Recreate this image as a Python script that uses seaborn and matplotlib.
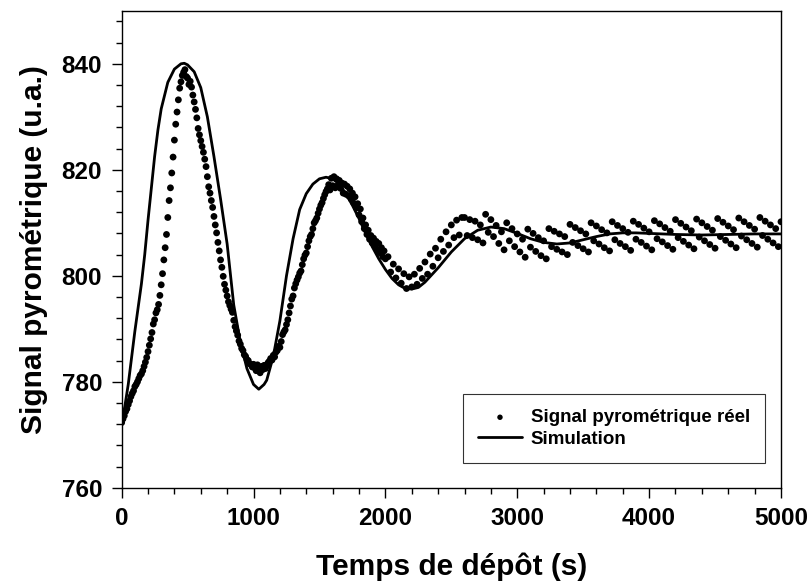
import numpy as np
import pandas as pd
import matplotlib
matplotlib.use("Agg")
import matplotlib.pyplot as plt
from matplotlib.ticker import MultipleLocator
import seaborn as sns

# =====================================================
# DATA
# =====================================================

# measured pyrometer signal: every 10 s from 0 to 2000 s ...
signal_early = [
    772.3, 773.0, 773.6, 774.4, 774.9, 775.7, 776.4, 777.2, 777.8, 778.3,
    779.1, 779.5, 780.0, 780.6, 781.2, 781.5, 782.1, 782.9, 783.7, 784.6,
    785.7, 786.9, 788.1, 789.3, 790.9, 791.7, 793.0, 793.6, 794.6, 796.3,
    798.3, 800.4, 803.0, 805.3, 807.8, 811.0, 814.2, 816.6, 819.4, 822.4,
    825.6, 828.6, 830.9, 833.2, 835.4, 836.6, 837.8, 838.4, 838.9, 837.6,
    837.3, 836.1, 836.7, 835.6, 834.1, 832.8, 831.4, 829.8, 827.8, 826.6,
    825.5, 824.4, 823.3, 822.0, 820.6, 818.7, 816.8, 815.6, 814.2, 812.9,
    811.2, 809.6, 808.1, 806.3, 804.7, 803.0, 801.6, 799.9, 798.4, 797.3,
    796.2, 795.1, 794.4, 793.7, 793.1, 791.6, 790.4, 789.6, 788.8, 787.7,
    787.1, 786.3, 785.9, 785.1, 784.8, 784.2, 784.0, 783.4, 783.3, 782.8,
    783.3, 782.6, 782.1, 783.2, 782.4, 781.7, 782.9, 782.3, 783.1, 782.5,
    783.0, 783.6, 783.9, 784.4, 784.1, 785.0, 784.7, 785.6, 785.9, 786.7,
    786.5, 787.6, 788.9, 789.4, 789.8, 790.8, 791.7, 793.0, 794.3, 795.6,
    796.2, 797.7, 798.5, 799.2, 799.8, 800.5, 800.9, 802.1, 803.2, 803.9,
    804.3, 805.5, 806.6, 807.4, 807.8, 808.9, 810.0, 810.4, 810.9, 811.8,
    812.6, 813.3, 813.8, 814.6, 815.3, 815.9, 816.4, 817.2, 816.2, 818.4,
    817.0, 818.7, 816.6, 818.3, 817.1, 818.0, 816.5, 817.5, 815.6, 817.3,
    815.4, 816.9, 815.1, 816.4, 814.5, 815.6, 813.7, 814.9, 812.8, 813.6,
    811.5, 812.6, 810.2, 810.9, 808.9, 809.6, 807.8, 808.6, 806.9, 807.6,
    806.2, 807.1, 805.6, 806.5, 804.9, 806.1, 804.3, 805.3, 803.6, 804.7,
    803.2,
]
# ... then every 20 s from 2020 to 5000 s
signal_late = [
    803.6, 800.7, 802.2, 799.6, 801.3, 798.6, 800.4, 797.6, 799.8,
    797.9, 800.3, 798.4, 801.4, 799.5, 802.6, 800.3, 804.1, 801.8, 805.2,
    803.4, 806.9, 804.6, 808.3, 805.8, 809.6, 807.2, 810.5, 807.7, 811.0,
    811.0, 807.6, 810.6, 807.2, 810.3, 806.8, 809.6, 806.2, 811.6, 808.2,
    810.6, 807.4, 809.5, 806.1, 808.3, 804.9, 810.0, 806.6, 808.9, 805.5,
    807.9, 804.5, 806.9, 803.5, 808.8, 805.4, 808.0, 804.6, 807.2, 803.8,
    806.6, 803.2, 808.9, 805.5, 808.4, 805.0, 807.9, 804.5, 807.4, 804.0,
    809.7, 806.3, 809.1, 805.7, 808.5, 805.1, 807.9, 804.5, 810.0, 806.6,
    809.4, 806.0, 808.7, 805.3, 808.1, 804.7, 810.2, 806.8, 809.5, 806.1,
    808.9, 805.5, 808.2, 804.8, 810.3, 806.9, 809.7, 806.3, 809.0, 805.6,
    808.3, 804.9, 810.4, 807.0, 809.8, 806.4, 809.1, 805.7, 808.4, 805.0,
    810.6, 807.2, 809.9, 806.5, 809.2, 805.8, 808.5, 805.1, 810.7, 807.3,
    810.0, 806.6, 809.3, 805.9, 808.6, 805.2, 810.8, 807.4, 810.1, 806.7,
    809.4, 806.0, 808.7, 805.3, 810.9, 807.5, 810.2, 806.8, 809.5, 806.1,
    808.8, 805.4, 811.0, 807.6, 810.3, 806.9, 809.6, 806.2, 808.9, 805.5,
    810.2,
]
time_early = np.arange(len(signal_early)) * 10
time_late = 2020 + np.arange(len(signal_late)) * 20

# simulated curve
time_sim = [
    0, 25, 50, 75, 100, 125, 150, 175, 200, 225, 250, 275, 300, 350, 400,
    450, 475, 500, 550, 600, 650, 700, 750, 800, 850, 900, 950, 1000, 1040,
    1080, 1100, 1150, 1200, 1250, 1300, 1350, 1400, 1450, 1500, 1550, 1600,
    1650, 1700, 1750, 1800, 1850, 1900, 1950, 2000, 2050, 2100, 2150, 2200,
    2250, 2300, 2400, 2500, 2600, 2700, 2800, 2900, 3000, 3100, 3200, 3300,
    3400, 3500, 3600, 3700, 3800, 3900, 4000, 4200, 4400, 4600, 4800, 5000,
]
signal_sim = [
    772.0, 775.5, 779.5, 784.5, 789.5, 794.0, 798.5, 804.0, 810.5, 816.5,
    822.5, 827.5, 831.5, 836.5, 839.0, 840.0, 840.1, 839.8, 838.5, 835.5,
    830.0, 822.5, 814.5, 806.0, 794.5, 787.5, 782.5, 779.5, 778.6, 779.5,
    780.3, 784.8, 791.5, 800.0, 807.0, 812.5, 815.5, 817.3, 818.3, 818.6,
    818.3, 817.3, 815.5, 813.3, 810.8, 808.0, 805.5, 803.2, 801.2, 799.5,
    798.3, 797.6, 797.5, 797.8, 798.8, 801.5, 804.5, 807.0, 808.6, 809.2,
    808.9, 808.0, 807.0, 806.3, 806.0, 806.2, 806.8, 807.4, 807.9, 808.1,
    808.1, 808.0, 807.8, 807.7, 807.8, 807.9, 807.9,
]

x_ticks = [0, 1000, 2000, 3000, 4000, 5000]
y_ticks = [760, 780, 800, 820, 840]

df_meas = pd.DataFrame({
    "t": np.concatenate([time_early, time_late]),
    "signal": signal_early + signal_late,
})
df_sim = pd.DataFrame({"t": time_sim, "signal": signal_sim})

# =====================================================
# PLOT
# =====================================================

sns.set_style("ticks")
plt.rcParams["font.family"] = ["Liberation Sans", "DejaVu Sans"]
plt.rcParams["font.weight"] = "bold"
plt.rcParams["text.color"] = "black"
plt.rcParams["axes.labelcolor"] = "black"
plt.rcParams["xtick.color"] = "black"
plt.rcParams["ytick.color"] = "black"

fig = plt.figure(figsize=(8.11, 5.87), dpi=100)
ax = fig.add_axes([0.150, 0.169, 0.813, 0.8126])

sns.scatterplot(data=df_meas, x="t", y="signal", ax=ax, color="black",
                s=24, edgecolor="none", label="Signal pyrométrique réel",
                zorder=2)
sns.lineplot(data=df_sim, x="t", y="signal", ax=ax, color="black",
             linewidth=2.0, estimator=None, sort=False,
             label="Simulation", zorder=3)

ax.set_xlim(0, 5000)
ax.set_ylim(760, 850)
ax.set_xticks(x_ticks)
ax.set_yticks(y_ticks)
ax.xaxis.set_minor_locator(MultipleLocator(200))
ax.yaxis.set_minor_locator(MultipleLocator(4))
ax.tick_params(which="both", direction="out", top=False, right=False,
               colors="black", width=1.0)
ax.tick_params(which="major", length=7, labelsize=17.5, pad=7)
ax.tick_params(which="minor", length=4)
for lab in ax.get_xticklabels() + ax.get_yticklabels():
    lab.set_fontweight("bold")

for sp in ax.spines.values():
    sp.set_color("black")
    sp.set_linewidth(1.0)

ax.set_xlabel("Temps de dépôt (s)", fontsize=21.5, fontweight="bold",
              labelpad=16)
ax.set_ylabel("Signal pyrométrique (u.a.)", fontsize=21.5, fontweight="bold",
              labelpad=10)

leg = ax.legend(loc="lower right", bbox_to_anchor=(0.976, 0.052),
                borderaxespad=0, frameon=True, fancybox=False,
                prop={"size": 13.5, "weight": "bold"},
                handlelength=2.3, handletextpad=0.5, labelspacing=0.25,
                borderpad=0.8, markerscale=0.8)
leg.get_frame().set_edgecolor("black")
leg.get_frame().set_linewidth(0.8)

fig.savefig("out.png", dpi=100)
